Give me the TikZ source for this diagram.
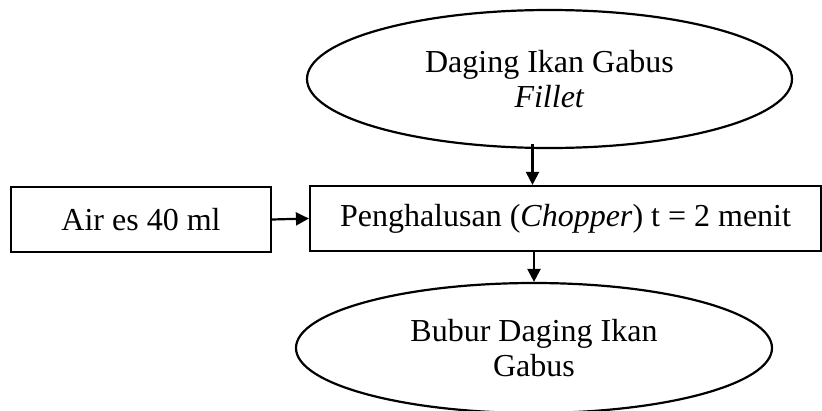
\documentclass[tikz,border=0pt]{standalone}
\usepackage{fontspec}
\setmainfont{Liberation Serif}
\usetikzlibrary{shapes.geometric,arrows.meta}
\begin{document}
\begin{tikzpicture}[x=1pt,y=-1pt,
  base/.style={draw=black,line width=2.2pt,inner sep=0pt,align=center,
    font=\fontsize{32}{35}\selectfont},
  oval/.style={base,ellipse},
  box/.style={base,rectangle},
  arr/.style={line width=2.2pt,-{Triangle[length=13pt,width=13pt]}}]
\fill[white] (0,0) rectangle (822,410);
\useasboundingbox (0,0) rectangle (822,410);
\node[oval,minimum width=485pt,minimum height=138pt] (top) at (549.5,79)
  {Daging Ikan Gabus\\\textit{Fillet}};
\node[box,minimum width=260pt,minimum height=65pt] (air) at (141,219.5)
  {Air es 40 ml};
\node[box,minimum width=511pt,minimum height=65pt] (main) at (565.5,218.5)
  {Penghalusan (\textit{Chopper}) t = 2 menit};
\node[oval,minimum width=476pt,minimum height=130pt] (bot) at (534,348)
  {Bubur Daging Ikan\\Gabus};
\coordinate (a1) at ([xshift=-17pt,yshift=5pt]top.south);
\draw[arr] (a1) -- (a1 |- main.north);
\draw[arr] (air.east) -- (main.west);
\draw[arr] (bot.north |- main.south) -- (bot.north);
\end{tikzpicture}
\end{document}
